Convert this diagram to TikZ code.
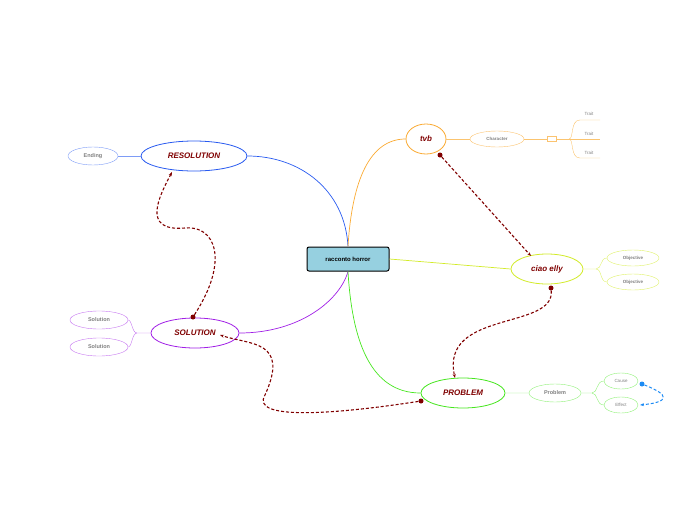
\documentclass[tikz,border=0pt]{standalone}
\usepackage{fontspec}
\setmainfont{Liberation Sans}
\usetikzlibrary{shapes.geometric,arrows.meta}
\begin{document}
\begin{tikzpicture}[x=1pt,y=-1pt,
 main/.style={ellipse,draw,line width=0.8pt,fill=white,font=\bfseries\itshape\fontsize{8}{9}\selectfont,text=red!50!black,inner sep=0pt},
 sub/.style={ellipse,draw,line width=0.4pt,font=\bfseries\fontsize{5.5}{6}\selectfont,text=gray,inner sep=0pt},
 rel/.style={densely dashed,line width=1.1pt,red!50!black,-{Stealth[length=4pt]}},
 dot/.style={circle,fill=red!50!black,inner sep=0pt,minimum size=5pt}]
\useasboundingbox (0,0) rectangle (697,520);
\definecolor{cblue}{RGB}{40,90,240}\definecolor{cpur}{RGB}{160,30,230}
\definecolor{cor}{RGB}{250,170,50}\definecolor{cyel}{RGB}{210,235,40}\definecolor{cgr}{RGB}{70,230,30}
\definecolor{cfill}{RGB}{150,208,224}
\node[draw,line width=1pt,rounded corners=2pt,fill=cfill,minimum width=82pt,minimum height=24pt,font=\bfseries\fontsize{6}{7}\selectfont] (c) at (348,259) {racconto horror};
\node[main,draw=cblue,minimum width=106pt,minimum height=30pt] (res) at (194,156) {RESOLUTION};
\node[sub,draw=cblue!60,minimum width=50pt,minimum height=18pt] (end) at (93,156) {Ending};
\node[main,draw=cpur,minimum width=88pt,minimum height=30pt] (sol) at (195,333) {SOLUTION};
\node[sub,draw=cpur!60,minimum width=58pt,minimum height=18pt] (s1) at (99,320) {Solution};
\node[sub,draw=cpur!60,minimum width=58pt,minimum height=18pt] (s2) at (99,347) {Solution};
\node[main,draw=cor,minimum width=40pt,minimum height=30pt] (tvb) at (426,139) {tvb};
\node[sub,draw=cor!70,minimum width=54pt,minimum height=16pt,font=\bfseries\fontsize{4.5}{5}\selectfont] (ch) at (497,139) {Character};
\node[draw=cor!70,minimum width=9pt,minimum height=5pt,inner sep=0pt] (sq) at (552,139) {};
\node[main,draw=cyel,minimum width=72pt,minimum height=30pt] (ce) at (547,269) {ciao elly};
\node[sub,draw=cyel!70,minimum width=52pt,minimum height=16pt,font=\bfseries\fontsize{4.5}{5}\selectfont] (o1) at (633,258) {Objective};
\node[sub,draw=cyel!70,minimum width=52pt,minimum height=16pt,font=\bfseries\fontsize{4.5}{5}\selectfont] (o2) at (633,282) {Objective};
\node[main,draw=cgr,minimum width=84pt,minimum height=30pt] (pr) at (463,393) {PROBLEM};
\node[sub,draw=cgr!60,minimum width=52pt,minimum height=18pt] (pb) at (555,393) {Problem};
\node[sub,draw=cgr!60,minimum width=34pt,minimum height=16pt,font=\fontsize{4.5}{5}\selectfont] (ca) at (621,381) {Cause};
\node[sub,draw=cgr!60,minimum width=34pt,minimum height=16pt,font=\fontsize{4.5}{5}\selectfont] (ef) at (621,405) {Effect};
% main branches
\draw[cblue,line width=0.7pt] (c.north) .. controls (345,190) and (300,156) .. (res.east);
\draw[cpur,line width=0.7pt] (c.south) .. controls (340,300) and (300,333) .. (sol.east);
\draw[cor,line width=0.7pt] (c.north) .. controls (352,180) and (370,139) .. (tvb.west);
\draw[cyel,line width=0.7pt] (c.east) -- (ce.west);
\draw[cgr,line width=0.7pt] (c.south) .. controls (352,340) and (370,393) .. (pr.west);
% sub branches
\draw[cblue!60,line width=0.4pt] (res.west) -- (end.east);
\draw[cpur!60] (sol.west) -- (137,333) .. controls (132,333) and (132,320) .. (s1.east);
\draw[cpur!60] (137,333) .. controls (132,333) and (132,347) .. (s2.east);
\draw[cor!70] (tvb.east) -- (ch.west) (ch.east) -- (sq.west);
\draw[cor!70] (sq.east) -- (600,139);
\draw[cor!70] (569,139) .. controls (574,139) and (570,120) .. (580,120) -- (600,120);
\draw[cor!70] (569,139) .. controls (574,139) and (570,158) .. (580,158) -- (600,158);
\node[font=\fontsize{4.5}{5}\selectfont,text=gray] (t1) at (589,114) {Trait};
\node[font=\fontsize{4.5}{5}\selectfont,text=gray] (t2) at (589,134) {Trait};
\node[font=\fontsize{4.5}{5}\selectfont,text=gray] (t3) at (589,153) {Trait};
\draw[cyel!70] (ce.east) -- (596,269) .. controls (602,269) and (600,258) .. (o1.west);
\draw[cyel!70] (596,269) .. controls (602,269) and (600,282) .. (o2.west);
\draw[cgr!60] (pr.east) -- (pb.west) (pb.east) -- (592,393) .. controls (598,393) and (596,381) .. (ca.west);
\draw[cgr!60] (592,393) .. controls (598,393) and (596,405) .. (ef.west);
% relationships
\node[dot] (d1) at (440,155) {};
\draw[rel] (d1) -- (531,256);
\node[dot] (d2) at (551,288) {};
\draw[rel] (d2) .. controls (555,330) and (440,310) .. (455,378);
\node[dot] (d3) at (193,317) {};
\draw[rel] (d3) .. controls (230,260) and (215,225) .. (185,228) .. controls (140,232) and (160,195) .. (172,172);
\node[dot] (d4) at (421,401) {};
\draw[rel] (d4) .. controls (330,415) and (250,420) .. (265,395) .. controls (290,340) and (250,345) .. (220,335);
\node[circle,fill=cblue!70!cyan,inner sep=0pt,minimum size=5pt] (d5) at (642,384) {};
\draw[densely dashed,line width=1pt,cblue!70!cyan,-{Stealth[length=4pt]}] (d5) .. controls (670,395) and (670,402) .. (640,405);
\end{tikzpicture}
\end{document}
